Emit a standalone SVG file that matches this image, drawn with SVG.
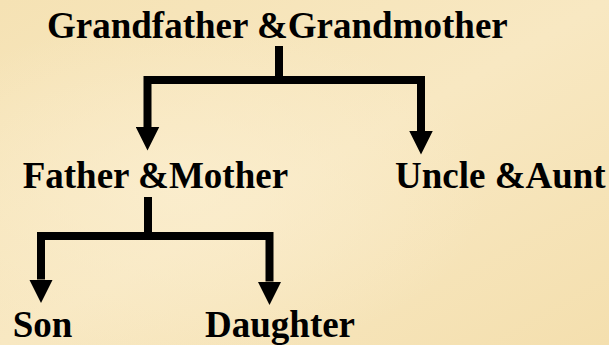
<svg xmlns="http://www.w3.org/2000/svg" width="609" height="345" viewBox="0 0 609 345">
  <defs>
    <style>
      text { font-family: 'Liberation Serif', 'Times New Roman', Times, serif; font-weight: 700; font-size: 37px; fill: #000; }
      .conn { fill: none; stroke: #000; stroke-width: 8; stroke-linejoin: miter; stroke-linecap: butt; }
    </style>
    <linearGradient id="bg" x1="0" y1="0" x2="1" y2="1">
      <stop offset="0" stop-color="#F5E2B4"/>
      <stop offset="0.5" stop-color="#F8E8C2"/>
      <stop offset="1" stop-color="#F4DFAE"/>
    </linearGradient>
    <radialGradient id="glow" cx="0.3" cy="0.55" r="0.5">
      <stop offset="0" stop-color="#FBEECF" stop-opacity="0.8"/>
      <stop offset="1" stop-color="#FBEECF" stop-opacity="0"/>
    </radialGradient>
    <marker id="arrow" markerUnits="userSpaceOnUse" markerWidth="24" markerHeight="24" refX="0" refY="11.75" orient="auto" viewBox="0 0 24 23.5">
      <path d="M0,0 L23.5,11.75 L0,23.5 z" fill="#000"/>
    </marker>
  </defs>
  <rect x="0" y="0" width="609" height="345" fill="url(#bg)"/>
  <rect x="0" y="0" width="609" height="345" fill="url(#glow)"/>

  <g id="connectors">
    <path class="conn" d="M279,46 V80"/>
    <path class="conn" d="M279,80 H147.5 V127" marker-end="url(#arrow)"/>
    <path class="conn" d="M279,80 H421 V131" marker-end="url(#arrow)"/>
    <path class="conn" d="M148,197 V236"/>
    <path class="conn" d="M148,236 H41 V279.5" marker-end="url(#arrow)"/>
    <path class="conn" d="M148,236 H269.5 V281.5" marker-end="url(#arrow)"/>
  </g>

  <g id="grandparents">
    <text x="47" y="37.5">Grandfather &amp;Grandmother</text>
  </g>
  <g id="parents">
    <text x="22.7" y="187.5">Father &amp;Mother</text>
  </g>
  <g id="uncle-aunt">
    <text x="395" y="187.5">Uncle &amp;Aunt</text>
  </g>
  <g id="son">
    <text x="12.7" y="336.7">Son</text>
  </g>
  <g id="daughter">
    <text x="205" y="336.7">Daughter</text>
  </g>
</svg>
